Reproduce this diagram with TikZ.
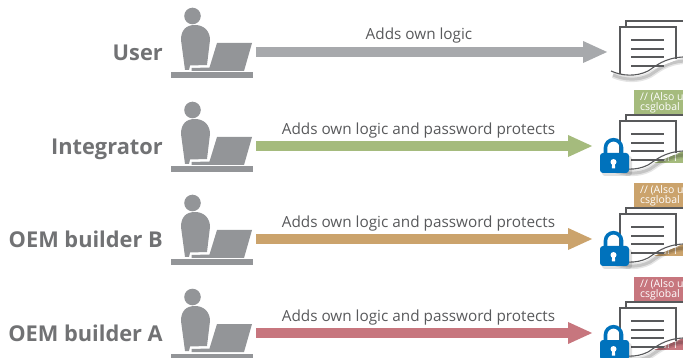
\documentclass[tikz,border=0pt]{standalone}
\usepackage{fontspec}
\setmainfont{Open Sans}
\usepackage{tikz}
\usetikzlibrary{arrows.meta, calc}

\definecolor{usergray}{HTML}{A7A9AC}
\definecolor{integratorgreen}{HTML}{A5BB7D}
\definecolor{builderbtan}{HTML}{CBA36C}
\definecolor{builderarose}{HTML}{C7767E}
\definecolor{icongray}{HTML}{939598}
\definecolor{textgray}{HTML}{58595B}
\definecolor{lockblue}{HTML}{0072BC}

\def\wavepath{(611, 71) .. controls (622, 76) and (636, 77) .. (648, 71) .. controls (656, 66) and (664, 58) .. (683, 57)}

\tikzset{
    rolelabel/.style={anchor=base east, font=\fontsize{21.8}{21.8}\selectfont\bfseries, text=textgray!85!white, inner sep=0pt},
    arrowlabel/.style={font=\fontsize{15.3}{15.3}\selectfont, text=textgray, inner sep=0pt},
    flowarrow/.style={line width=10pt, -{Triangle[length=25pt, width=20pt]}},
    bannertext/.style={anchor=west, font=\fontsize{10.5}{10.5}\selectfont, text=white, inner sep=0pt},
    page/.style={draw=textgray, line width=1.1pt},
    person/.pic={
        \fill [icongray] (192.5, 16) circle (8.3);
        % 身体
        \fill [icongray] (181, 40) .. controls (181, 30) and (186, 25) .. (195, 25)
            .. controls (204, 25) and (210, 31) .. (210, 40) -- (207, 65) -- (190, 65.5) -- (189, 70) -- (185, 70) -- cycle;
        % 笔记本
        \fill [icongray] (217, 43) -- (252, 43) -- (244, 71) -- (191.5, 71) -- (191.5, 68) -- (209.5, 67.5) -- cycle;
        \fill [icongray] (171, 72.5) rectangle (253, 78);
    },
    document/.pic={
        % 阴影
        \begin{scope}[shift={(2, 4)}]
            \draw [black, opacity=0.10, line width=6pt] \wavepath;
            \draw [black, opacity=0.14, line width=3pt] \wavepath;
        \end{scope}
        % 后页和前页
        \fill [white] (626, 21) -- (683, 21) -- (683, 57) -- (648, 71) -- (626, 72) -- cycle;
        \draw [page] (683, 21) -- (626, 21) -- (626, 27);
        \fill [white] (620, 27) -- (676, 27) -- (676, 60) -- (648, 71) .. controls (636, 77) and (628, 76) .. (620, 74) -- cycle;
        \draw [page] (620, 74) -- (620, 27) -- (676, 27) -- (676, 59.5);
        \draw [page] \wavepath;
        \foreach \liney in {40, 49, 57, 66}
            \draw [textgray, line width=1.2pt] (631, \liney) -- (664, \liney);
    },
    padlock/.pic={
        \fill [black, opacity=0.12, rounded corners=3pt] (602, 156) rectangle (632, 176);
        \draw [lockblue, line width=3.6pt] (605.5, 156) -- (605.5, 147.7) arc [start angle=180, end angle=360, radius=8] -- (621.5, 156);
        \fill [lockblue, rounded corners=3pt] (600, 153) rectangle (629, 173);
        \fill [white] (613.5, 162) circle (3);
        \fill [white] (612.2, 163) -- (614.8, 163) -- (615.2, 168.5) -- (611.8, 168.5) -- cycle;
    },
}

\begin{document}
\begin{tikzpicture}[x=1pt, y=-1pt]
    \useasboundingbox (0, 0) rectangle (683, 358);

    % User
    \node [rolelabel] (labelUser) at (163, 61) {User};
    \pic at (0, 0) {person};
    \pic at (0, 0) {document};
    \coordinate (startUser) at (256, 52);
    \coordinate (endUser) at (608, 52);
    \draw [flowarrow, usergray] (startUser) -- node [arrowlabel, pos=0.463, yshift=16pt] (textUser) {Adds own logic} (endUser);

    % 带密码保护的三行
    \foreach \rowname/\rowshift/\rowcolor/\rowtitle in {
        Integrator/94/integratorgreen/Integrator,
        BuilderB/187/builderbtan/OEM builder B,
        BuilderA/281/builderarose/OEM builder A%
    } {
        \node [rolelabel] (label\rowname) at (163, 60.5 + \rowshift) {\rowtitle};
        \pic at (0, \rowshift) {person};
        % 代码底色
        \fill [\rowcolor] (634, 90 - 94 + \rowshift) rectangle (683, 163 - 94 + \rowshift);
        \node [bannertext] (codeA\rowname) at (640, 97 - 94 + \rowshift) {// (Also u};
        \node [bannertext] (codeB\rowname) at (640, 108 - 94 + \rowshift) {csglobal};
        \node [bannertext] (codeC\rowname) at (630, 158.5 - 94 + \rowshift) {csglobal T};
        \pic at (0, \rowshift) {document};
        \pic at (0, \rowshift - 94) {padlock};
        \coordinate (start\rowname) at (256, 52 + \rowshift);
        \coordinate (end\rowname) at (593, 52 + \rowshift);
        \draw [flowarrow, \rowcolor] (start\rowname) -- node [arrowlabel, pos=0.482, yshift=15pt] (text\rowname) {Adds own logic and password protects} (end\rowname);
    }
\end{tikzpicture}
\end{document}
